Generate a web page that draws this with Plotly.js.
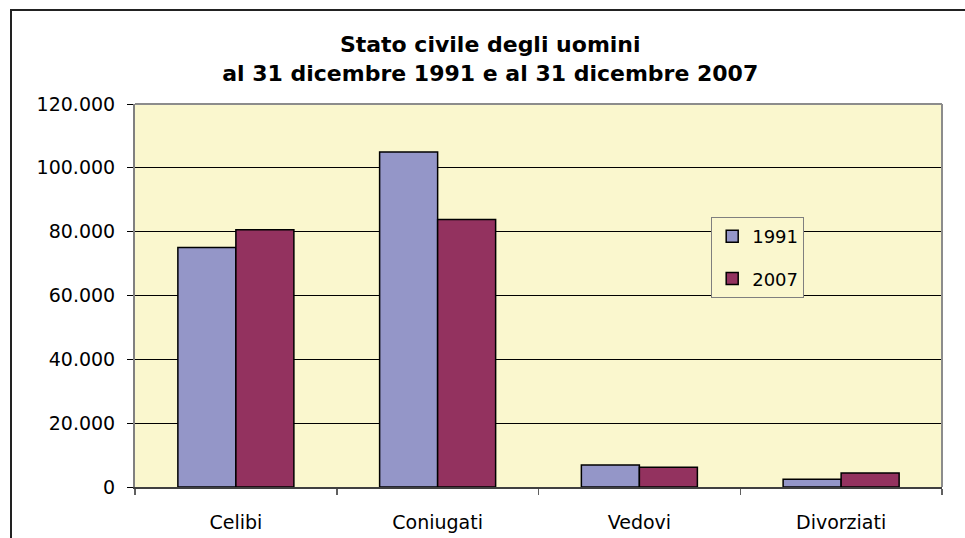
<!DOCTYPE html>
<html>
<head>
<meta charset="utf-8">
<script src="https://cdn.plot.ly/plotly-3.0.1.min.js"></script>
<style>
  html, body { margin: 0; padding: 0; background: #ffffff; }
  #wrap { position: relative; width: 965px; height: 538px; }
  #chart { width: 965px; height: 538px; }
  #frame { position: absolute; left: 10px; top: 9px; width: 955px; height: 529px;
           border-top: 2px solid #222; border-left: 2px solid #222; pointer-events: none; box-sizing: border-box; }
</style>
</head>
<body>
<div id="wrap">
  <div id="chart"></div>
  <div id="frame"></div>
</div>
<script>
const categories = ['Celibi', 'Coniugati', 'Vedovi', 'Divorziati'];
const seriesNames = ['1991', '2007'];
const values1991 = [75000, 105000, 6900, 2400];
const values2007 = [80600, 83800, 6200, 4400];
const yTicks = [0, 20000, 40000, 60000, 80000, 100000, 120000];

const fontFamily = 'DejaVu Sans, Liberation Sans, Arial, sans-serif';

const traces = [
  {
    type: 'bar', name: seriesNames[0], x: categories, y: values1991,
    legendgroup: 'a',
    marker: { color: '#9496C8', line: { color: '#000000', width: 1.5 } }
  },
  {
    type: 'bar', name: seriesNames[1], x: categories, y: values2007,
    legendgroup: 'b',
    marker: { color: '#93325F', line: { color: '#000000', width: 1.5 } }
  }
];

const layout = {
  width: 965, height: 538,
  margin: { l: 135, r: 23, t: 104, b: 51 },
  paper_bgcolor: '#ffffff',
  plot_bgcolor: '#FAF7CE',
  separators: ',.',
  font: { family: fontFamily, color: '#000000', size: 18 },
  title: {
    text: 'Stato civile degli uomini<br>al 31 dicembre 1991 e al 31 dicembre 2007',
    font: { family: fontFamily, size: 22, color: '#000000', weight: 'bold' },
    x: 0.508, xanchor: 'center', xref: 'container',
    y: 62, yref: 'container', yanchor: 'middle'
  },
  barmode: 'group',
  bargap: 0.425,
  bargroupgap: 0,
  showlegend: true,
  legend: {
    x: 0.714, xanchor: 'left', y: 0.705, yanchor: 'top',
    bgcolor: '#FAF7CE', bordercolor: '#7f7f7f', borderwidth: 1,
    font: { family: fontFamily, size: 18, color: '#000000' },
    itemwidth: 30,
    traceorder: 'grouped', tracegroupgap: 16
  },
  xaxis: {
    type: 'category',
    showgrid: false,
    showline: true, linecolor: '#404040', linewidth: 1.5,
    ticks: 'outside', tickson: 'boundaries', ticklen: 6, tickcolor: '#606060', tickwidth: 1.5,
    tickfont: { family: fontFamily, size: 19, color: '#000000' },
    ticklabelstandoff: 18,
    fixedrange: true
  },
  yaxis: {
    range: [0, 120000],
    tickvals: yTicks,
    tickformat: ',d',
    showgrid: true, gridcolor: '#000000', gridwidth: 1,
    zeroline: false,
    showline: true, linecolor: '#808080', linewidth: 2,
    ticks: 'outside', ticklen: 6, tickcolor: '#000000', tickwidth: 1,
    tickfont: { family: fontFamily, size: 19, color: '#000000' },
    ticklabelstandoff: 8,
    fixedrange: true
  },
  shapes: [
    { type: 'line', xref: 'paper', yref: 'paper', x0: 0, x1: 1, y0: 1, y1: 1,
      line: { color: '#8c8c8c', width: 2 }, layer: 'above' },
    { type: 'line', xref: 'paper', yref: 'paper', x0: 1, x1: 1, y0: 0, y1: 1,
      line: { color: '#8c8c8c', width: 2 }, layer: 'above' }
  ]
};

Plotly.newPlot('chart', traces, layout, { displayModeBar: false, staticPlot: true });
</script>
</body>
</html>
